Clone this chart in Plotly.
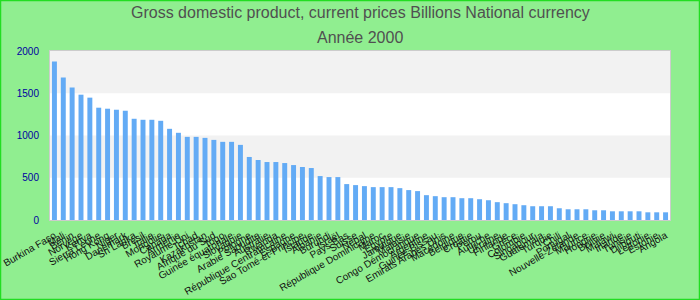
import plotly.graph_objects as go

countries = [
    "Burkina Faso", "Mali", "Bénin", "Norvège", "Kenya", "Sierra Leone", "Hong Kong", "Niger",
    "Danemark", "Sri Lanka", "Brésil", "Italie", "Mongolie", "Canada", "Arménie", "Royaume-Uni",
    "Tchad", "Kazakhstan", "Afrique du Sud", "Togo", "Guinée équatoriale", "Slovaquie", "Pologne",
    "Arabie Saoudite", "Australie", "Rwanda", "République Centrafricaine", "Espagne",
    "Sao Tomé-et-Principe", "Islande", "Albanie", "Burundi", "Israël", "Pays-Bas", "Suisse",
    "Népal", "République Dominicaine", "Maroc", "Égypte", "Jamaïque", "Malaisie",
    "Congo Démocratique", "Argentine", "Guinée-Bissau", "Emirats Arabes Unis", "Macédoine",
    "Belgique", "Croatie", "Pérou", "Autriche", "Ukraine", "Finlande", "Grèce", "Colombie",
    "Singapour", "Guatemala", "Turquie", "Chili", "Portugal", "Nouvelle-Zélande", "Maurice",
    "Hongrie", "Bolivie", "Malawi", "Irlande", "Tunisie", "Djibouti", "Lettonie", "Estonie",
    "Angola",
]
values = [
    1877, 1686, 1567, 1483, 1448, 1329, 1317, 1305, 1293, 1198, 1186, 1186, 1174, 1079, 1032,
    984, 984, 972, 948, 925, 925, 889, 746, 710, 686, 686, 674, 650, 627, 615, 520, 508, 508,
    425, 413, 401, 389, 389, 389, 377, 354, 342, 294, 282, 270, 270, 258, 258, 246, 234, 211,
    199, 187, 175, 163, 163, 163, 139, 127, 127, 127, 115, 115, 103, 103, 103, 103, 91, 91, 91,
]
y_ticks = [0, 500, 1000, 1500, 2000]
title_line1 = "Gross domestic product, current prices Billions National currency"
title_line2 = "Année 2000"

W, H = 700, 300
L, R, T, B = 50, 30, 51, 80
pw, ph = W - L - R, H - T - B

fig = go.Figure(go.Bar(x=countries, y=values, marker_color="#63abf5",
                       marker_line_width=0, width=0.56))

shapes = []
for lo, hi in [(1500, 2000), (500, 1000)]:
    shapes.append(dict(type="rect", xref="paper", yref="y", x0=0, x1=1, y0=lo, y1=hi,
                       fillcolor="#f2f2f2", line_width=0, layer="below"))
# outer border of the image
shapes.append(dict(type="rect", xref="paper", yref="paper",
                   x0=-L / pw + 0.5 / pw, x1=1 + (R - 0.5) / pw,
                   y0=-B / ph + 0.5 / ph, y1=1 + (T - 0.5) / ph,
                   line=dict(color="#22dd22", width=1.5), fillcolor="rgba(0,0,0,0)"))

fig.update_layout(
    width=W, height=H,
    margin=dict(l=L, r=R, t=T, b=B),
    paper_bgcolor="#90ee90", plot_bgcolor="#ffffff",
    showlegend=False,
    shapes=shapes,
    font=dict(family="Liberation Sans, Arial, sans-serif"),
    annotations=[
        dict(text=title_line1, xref="paper", yref="paper", x=0.5,
             y=1 + (T - 13) / ph, xanchor="center", yanchor="middle", showarrow=False,
             font=dict(size=16, color="#505050")),
        dict(text=title_line2, xref="paper", yref="paper", x=0.5,
             y=1 + (T - 37) / ph, xanchor="center", yanchor="middle", showarrow=False,
             font=dict(size=16, color="#505050")),
    ],
    xaxis=dict(
        type="category", tickmode="array", tickvals=countries, ticktext=countries,
        tickangle=-30, tickfont=dict(size=10, color="#111111"), automargin=False,
        showline=True, linecolor="#cccccc", linewidth=1, mirror=True,
        showgrid=False, ticks="outside", ticklen=5, tickcolor="rgba(0,0,0,0)",
        range=[-0.5, len(countries) - 0.5],
    ),
    yaxis=dict(
        range=[0, 2000], tickvals=y_ticks, tickfont=dict(size=10, color="#0000a0"),
        showgrid=False, zeroline=False, showline=True, linecolor="#cccccc", linewidth=1,
        mirror=True, ticks="outside", ticklen=8, tickcolor="rgba(0,0,0,0)", automargin=False,
    ),
)

fig.write_html("out.html")
